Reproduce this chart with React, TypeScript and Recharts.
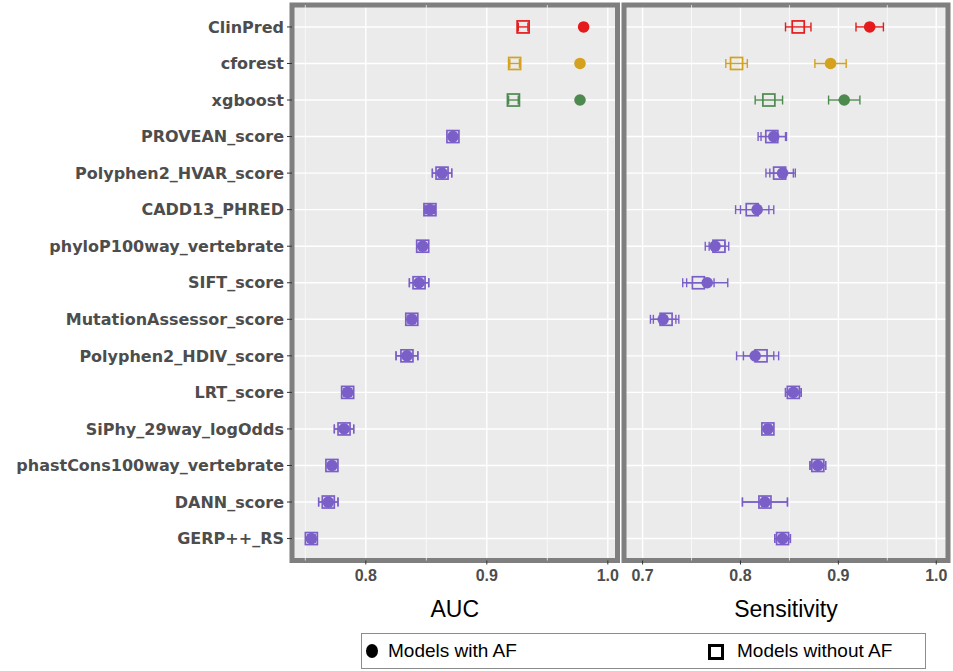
import {
  CartesianGrid,
  ErrorBar,
  ReferenceArea,
  ReferenceLine,
  Scatter,
  ScatterChart,
  XAxis,
  YAxis,
} from "recharts";

const models = [
  "ClinPred",
  "cforest",
  "xgboost",
  "PROVEAN_score",
  "Polyphen2_HVAR_score",
  "CADD13_PHRED",
  "phyloP100way_vertebrate",
  "SIFT_score",
  "MutationAssessor_score",
  "Polyphen2_HDIV_score",
  "LRT_score",
  "SiPhy_29way_logOdds",
  "phastCons100way_vertebrate",
  "DANN_score",
  "GERP++_RS",
];

// AUC, models with / without allele frequency (value and half-width of CI)
const aucWithAF = [0.98, 0.977, 0.977, 0.872, 0.863, 0.853, 0.847, 0.844, 0.838, 0.834, 0.785, 0.782, 0.772, 0.769, 0.755];
const aucErrWithAF = [0.002, 0.002, 0.002, 0.002, 0.008, 0.004, 0.002, 0.008, 0.003, 0.009, 0.003, 0.008, 0.002, 0.008, 0.003];
const aucWithoutAF = [0.93, 0.923, 0.922, 0.872, 0.863, 0.853, 0.847, 0.844, 0.838, 0.834, 0.785, 0.782, 0.772, 0.769, 0.755];
const aucErrWithoutAF = [0.004, 0.004, 0.004, 0.002, 0.008, 0.004, 0.002, 0.008, 0.003, 0.009, 0.003, 0.008, 0.002, 0.008, 0.003];

// Sensitivity
const sensWithAF = [0.932, 0.892, 0.906, 0.834, 0.843, 0.817, 0.774, 0.766, 0.721, 0.815, 0.854, 0.828, 0.879, 0.825, 0.843];
const sensErrWithAF = [0.014, 0.016, 0.016, 0.013, 0.013, 0.017, 0.01, 0.021, 0.013, 0.019, 0.008, 0.003, 0.008, 0.023, 0.008];
const sensWithoutAF = [0.859, 0.796, 0.829, 0.832, 0.84, 0.812, 0.778, 0.757, 0.724, 0.821, 0.854, 0.828, 0.879, 0.825, 0.843];
const sensErrWithoutAF = [0.013, 0.011, 0.014, 0.014, 0.014, 0.017, 0.01, 0.016, 0.013, 0.018, 0.008, 0.003, 0.008, 0.023, 0.008];

const aucTicks = [0.8, 0.9, 1.0];
const aucMinor = [0.75, 0.85, 0.95];
const sensTicks = [0.7, 0.8, 0.9, 1.0];
const sensMinor = [0.75, 0.85, 0.95];

const RED = "#E41A1C";
const GOLD = "#D4A21F";
const GREEN = "#4E8A50";
const PURPLE = "#7B5FC8";
const colorOf = (m: string) =>
  m === "ClinPred" ? RED : m === "cforest" ? GOLD : m === "xgboost" ? GREEN : PURPLE;
const seriesColors = [RED, GOLD, GREEN, PURPLE];

const rowIdx = models.map((_, i) => i);
const Y_DOMAIN: [number, number] = [-0.6, models.length - 0.4];

type Row = { model: string; row: number; v: number; err: number; color: string };

function buildRows(values: number[], errs: number[]): Row[] {
  return models.map((m, i) => ({ model: m, row: i, v: values[i], err: errs[i], color: colorOf(m) }));
}

const CircleMark = (props: any) => {
  const { cx, cy, payload } = props;
  return <circle cx={cx} cy={cy} r={5.8} fill={payload.color} />;
};

const SquareMark = (props: any) => {
  const { cx, cy, payload } = props;
  return (
    <rect x={cx - 6} y={cy - 6} width={12} height={12} fill="none" stroke={payload.color} strokeWidth={1.7} />
  );
};

const SANS = "'Liberation Sans', Arial, sans-serif";
const tickStyle = { fontSize: 16, fontWeight: "bold", fill: "#4d4d4d", fontFamily: SANS };

function Panel({
  width,
  margin,
  domain,
  ticks,
  minor,
  withAF,
  withoutAF,
  title,
  showLabels,
}: {
  width: number;
  margin: { top: number; right: number; bottom: number; left: number };
  domain: [number, number];
  ticks: number[];
  minor: number[];
  withAF: Row[];
  withoutAF: Row[];
  title: string;
  showLabels: boolean;
}) {
  return (
    <ScatterChart width={width} height={625} margin={margin}>
      <CartesianGrid
        fill="#EBEBEB"
        fillOpacity={1}
        stroke="#ffffff"
        strokeWidth={1.4}
        horizontalValues={rowIdx}
        verticalValues={ticks}
      />
      {minor.map((m) => (
        <ReferenceLine key={m} x={m} stroke="#ffffff" strokeWidth={0.7} />
      ))}
      <XAxis
        type="number"
        dataKey="v"
        domain={domain}
        ticks={ticks}
        allowDataOverflow
        tickFormatter={(t: number) => t.toFixed(1)}
        axisLine={false}
        tickLine={{ stroke: "#333333" }}
        tickSize={4}
        tickMargin={5}
        tick={tickStyle}
        height={64.5}
        label={{ value: title, position: "insideBottom", offset: 8, fill: "#000000", fontSize: 23, fontFamily: SANS }}
      />
      <YAxis
        type="number"
        dataKey="row"
        domain={Y_DOMAIN}
        reversed
        ticks={rowIdx}
        interval={0}
        allowDataOverflow
        hide={!showLabels}
        width={showLabels ? 292 : 0}
        tickFormatter={(i: number) => models[i]}
        axisLine={false}
        tickLine={{ stroke: "#333333" }}
        tickSize={5}
        tickMargin={3}
        tick={{ fontSize: 16, fontWeight: "bold", fill: "#4d4d4d", fontFamily: "'DejaVu Sans', sans-serif" }}
      />
      {seriesColors.map((c) => (
        <Scatter
          key={`sq-${c}`}
          data={withoutAF.filter((r) => r.color === c)}
          shape={SquareMark}
          isAnimationActive={false}
        >
          <ErrorBar dataKey="err" direction="x" width={4.5} stroke={c} strokeWidth={1.4} isAnimationActive={false} />
        </Scatter>
      ))}
      {seriesColors.map((c) => (
        <Scatter
          key={`ci-${c}`}
          data={withAF.filter((r) => r.color === c)}
          shape={CircleMark}
          isAnimationActive={false}
        >
          <ErrorBar dataKey="err" direction="x" width={4.5} stroke={c} strokeWidth={1.4} isAnimationActive={false} />
        </Scatter>
      ))}
      <ReferenceArea
        x1={domain[0]}
        x2={domain[1]}
        y1={Y_DOMAIN[0]}
        y2={Y_DOMAIN[1]}
        fill="none"
        stroke="#7f7f7f"
        strokeWidth={5}
        ifOverflow="visible"
      />
    </ScatterChart>
  );
}

export default function App() {
  const aucAF = buildRows(aucWithAF, aucErrWithAF);
  const aucNoAF = buildRows(aucWithoutAF, aucErrWithoutAF);
  const sensAF = buildRows(sensWithAF, sensErrWithAF);
  const sensNoAF = buildRows(sensWithoutAF, sensErrWithoutAF);

  return (
    <div style={{ position: "absolute", left: 0, top: 0, width: 953, height: 671, background: "#ffffff" }}>
      <div style={{ position: "absolute", left: 0, top: 0 }}>
        <Panel
          width={620}
          margin={{ top: 5, right: 2.5, bottom: 0, left: 0 }}
          domain={[0.739, 1.008]}
          ticks={aucTicks}
          minor={aucMinor}
          withAF={aucAF}
          withoutAF={aucNoAF}
          title="AUC"
          showLabels
        />
      </div>
      <div style={{ position: "absolute", left: 620, top: 0 }}>
        <Panel
          width={333}
          margin={{ top: 5, right: 5, bottom: 0, left: 4 }}
          domain={[0.681, 1.012]}
          ticks={sensTicks}
          minor={sensMinor}
          withAF={sensAF}
          withoutAF={sensNoAF}
          title="Sensitivity"
          showLabels={false}
        />
      </div>
      <div
        style={{
          position: "absolute",
          left: 361,
          top: 633,
          width: 563,
          height: 34,
          border: "1px solid #8c8c8c",
          fontFamily: SANS,
          fontSize: 19,
          color: "#000",
        }}
      >
        <div
          style={{
            position: "absolute",
            left: 4,
            top: 10,
            width: 12,
            height: 14,
            borderRadius: "50%",
            background: "#000",
          }}
        />
        <div style={{ position: "absolute", left: 26, top: 6 }}>Models with AF</div>
        <div
          style={{
            position: "absolute",
            left: 346,
            top: 10,
            width: 10,
            height: 10,
            border: "3px solid #000",
          }}
        />
        <div style={{ position: "absolute", left: 375, top: 6 }}>Models without AF</div>
      </div>
    </div>
  );
}
